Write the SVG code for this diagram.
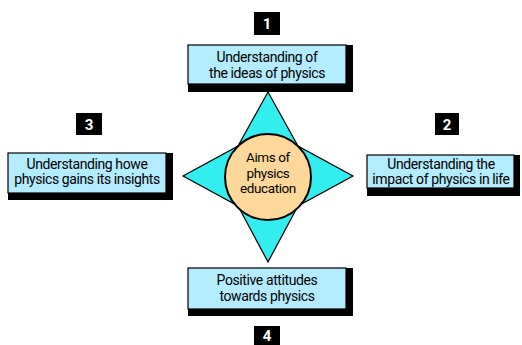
<svg xmlns="http://www.w3.org/2000/svg" width="522" height="345" viewBox="0 0 522 345">
<style>
.sh{fill:#000}
.bx{fill:#b3ecfe;stroke:#000;stroke-width:1.2}
.t{font-family:Roboto,"Liberation Sans",sans-serif;font-size:14px;fill:#000;text-anchor:middle;letter-spacing:-0.4px}
.c{font-size:13.5px}
.nb{fill:#000}
.nt{font-family:Roboto,"Liberation Sans",sans-serif;font-size:15px;font-weight:bold;fill:#fff;text-anchor:middle}
</style>
<rect width="522" height="345" fill="#fff"/>
<g id="center">
<polygon points="268,92 298,146 353,176 298,206 268,262 238,206 183,176 238,146" fill="#33eeee" stroke="#000" stroke-width="1.2" stroke-linejoin="miter"/>
<circle cx="268" cy="177" r="43" fill="#fdd89a" stroke="#000" stroke-width="2"/>
<text class="t c" x="268" y="162">Aims of</text>
<text class="t c" x="268" y="177.5">physics</text>
<text class="t c" x="268" y="192.5">education</text>
</g>
<g id="node1">
<rect class="sh" x="188" y="45" width="165" height="47"/>
<rect class="bx" x="188" y="45" width="158" height="39"/>
<text class="t" x="267" y="62">Understanding of</text>
<text class="t" x="267" y="77.5">the ideas of physics</text>
<rect class="nb" x="254" y="12" width="26" height="23"/>
<text class="nt" x="267" y="29">1</text>
</g>
<g id="node2">
<rect class="sh" x="367" y="155" width="153" height="41"/>
<rect class="bx" x="367" y="155" width="147" height="33"/>
<text class="t" x="441" y="169">Understanding the</text>
<text class="t" x="441" y="184">impact of physics in life</text>
<rect class="nb" x="435" y="113" width="24" height="22"/>
<text class="nt" x="447" y="129.5">2</text>
</g>
<g id="node3">
<rect class="sh" x="8" y="153" width="165" height="47"/>
<rect class="bx" x="8" y="153" width="158" height="40"/>
<text class="t" x="87" y="168.5">Understanding howe</text>
<text class="t" x="87" y="184">physics gains its insights</text>
<rect class="nb" x="76" y="113" width="26" height="22"/>
<text class="nt" x="89" y="129.5">3</text>
</g>
<g id="node4">
<rect class="sh" x="188" y="268" width="165" height="48"/>
<rect class="bx" x="188" y="268" width="158" height="41"/>
<text class="t" x="267" y="284.5">Positive attitudes</text>
<text class="t" x="267" y="300.5">towards physics</text>
<rect class="nb" x="254" y="326" width="26" height="19"/>
<text class="nt" x="267" y="341">4</text>
</g>
<g id="connectors"></g>
</svg>
